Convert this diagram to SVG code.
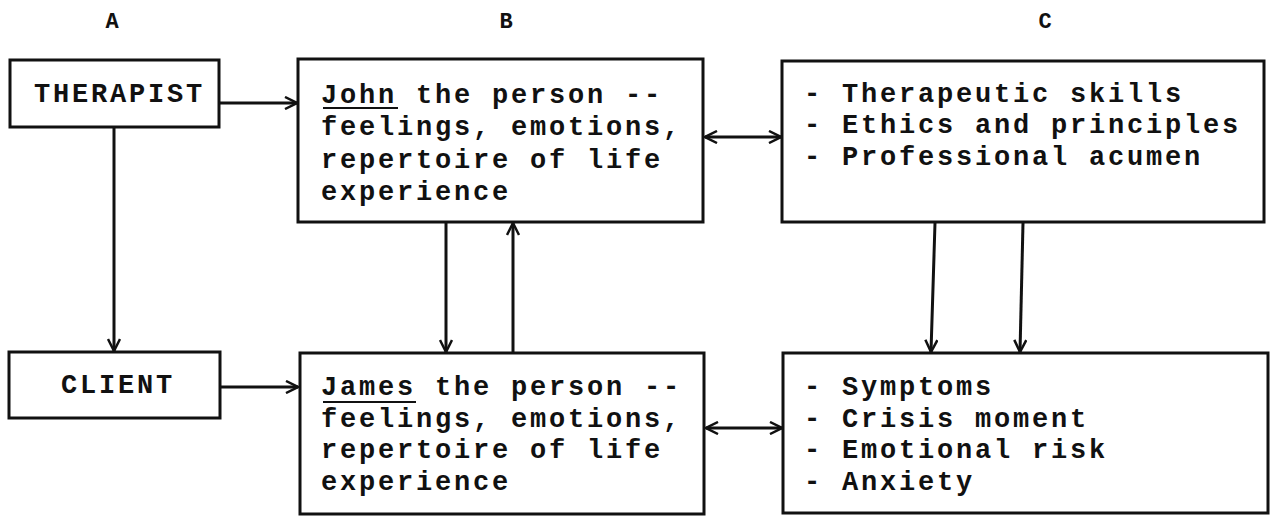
<svg xmlns="http://www.w3.org/2000/svg" width="1274" height="517" viewBox="0 0 1274 517">
  <style>
    .box { fill: #ffffff; stroke: #111111; stroke-width: 3; }
    .t { font-family: "Liberation Mono", "Courier New", monospace; font-size: 27px; font-weight: bold; letter-spacing: 2.8px; fill: #111111; }
    .lbl { font-family: "Liberation Mono", "Courier New", monospace; font-size: 22px; font-weight: bold; fill: #111111; text-anchor: middle; }
    .ul { stroke: #111111; stroke-width: 2; }
    .conn { stroke: #111111; stroke-width: 3; fill: none; }
  </style>
  <defs>
    <marker id="ah" viewBox="0 0 14 14" refX="13" refY="7" markerWidth="14" markerHeight="14" markerUnits="userSpaceOnUse" orient="auto-start-reverse">
      <path d="M1,1 L13,7 L1,13" fill="none" stroke="#111111" stroke-width="2.5"/>
    </marker>
  </defs>
  <rect width="1274" height="517" fill="#ffffff"/>

  <g id="column-labels">
    <text class="lbl" x="112" y="28">A</text>
    <text class="lbl" x="506" y="28">B</text>
    <text class="lbl" x="1045" y="28">C</text>
  </g>

  <g id="therapist">
    <rect class="box" x="10" y="60" width="209" height="67"/>
    <text class="t" x="34" y="102">THERAPIST</text>
  </g>

  <g id="client">
    <rect class="box" x="9" y="352" width="211" height="66"/>
    <text class="t" x="61" y="393">CLIENT</text>
  </g>

  <g id="john">
    <rect class="box" x="298" y="59" width="405" height="163"/>
    <text class="t" x="321" y="103">John the person --</text>
    <text class="t" x="321" y="135">feelings, emotions,</text>
    <text class="t" x="321" y="168">repertoire of life</text>
    <text class="t" x="321" y="200">experience</text>
    <line class="ul" x1="323" y1="108" x2="398" y2="108"/>
  </g>

  <g id="james">
    <rect class="box" x="300" y="353" width="404" height="161"/>
    <text class="t" x="321" y="395">James the person --</text>
    <text class="t" x="321" y="427">feelings, emotions,</text>
    <text class="t" x="321" y="458">repertoire of life</text>
    <text class="t" x="321" y="490">experience</text>
    <line class="ul" x1="323" y1="402" x2="416" y2="402"/>
  </g>

  <g id="therapist-qualities">
    <rect class="box" x="782" y="61" width="482" height="161"/>
    <text class="t" x="804" y="102">- Therapeutic skills</text>
    <text class="t" x="804" y="133">- Ethics and principles</text>
    <text class="t" x="804" y="165">- Professional acumen</text>
  </g>

  <g id="client-state">
    <rect class="box" x="783" y="353" width="485" height="160"/>
    <text class="t" x="804" y="395">- Symptoms</text>
    <text class="t" x="804" y="427">- Crisis moment</text>
    <text class="t" x="804" y="458">- Emotional risk</text>
    <text class="t" x="804" y="490">- Anxiety</text>
  </g>

  <g id="connectors">
    <line class="conn" x1="219" y1="103" x2="297" y2="103" marker-end="url(#ah)"/>
    <line class="conn" x1="220" y1="387" x2="298" y2="387" marker-end="url(#ah)"/>
    <line class="conn" x1="114" y1="127" x2="114" y2="351" marker-end="url(#ah)"/>
    <line class="conn" x1="446" y1="223" x2="446" y2="352" marker-end="url(#ah)"/>
    <line class="conn" x1="513" y1="353" x2="513" y2="223" marker-end="url(#ah)"/>
    <line class="conn" x1="705" y1="137" x2="781" y2="137" marker-start="url(#ah)" marker-end="url(#ah)"/>
    <line class="conn" x1="706" y1="428" x2="782" y2="428" marker-start="url(#ah)" marker-end="url(#ah)"/>
    <line class="conn" x1="935" y1="223" x2="931" y2="352" marker-end="url(#ah)"/>
    <line class="conn" x1="1023" y1="223" x2="1020" y2="352" marker-end="url(#ah)"/>
  </g>
</svg>
